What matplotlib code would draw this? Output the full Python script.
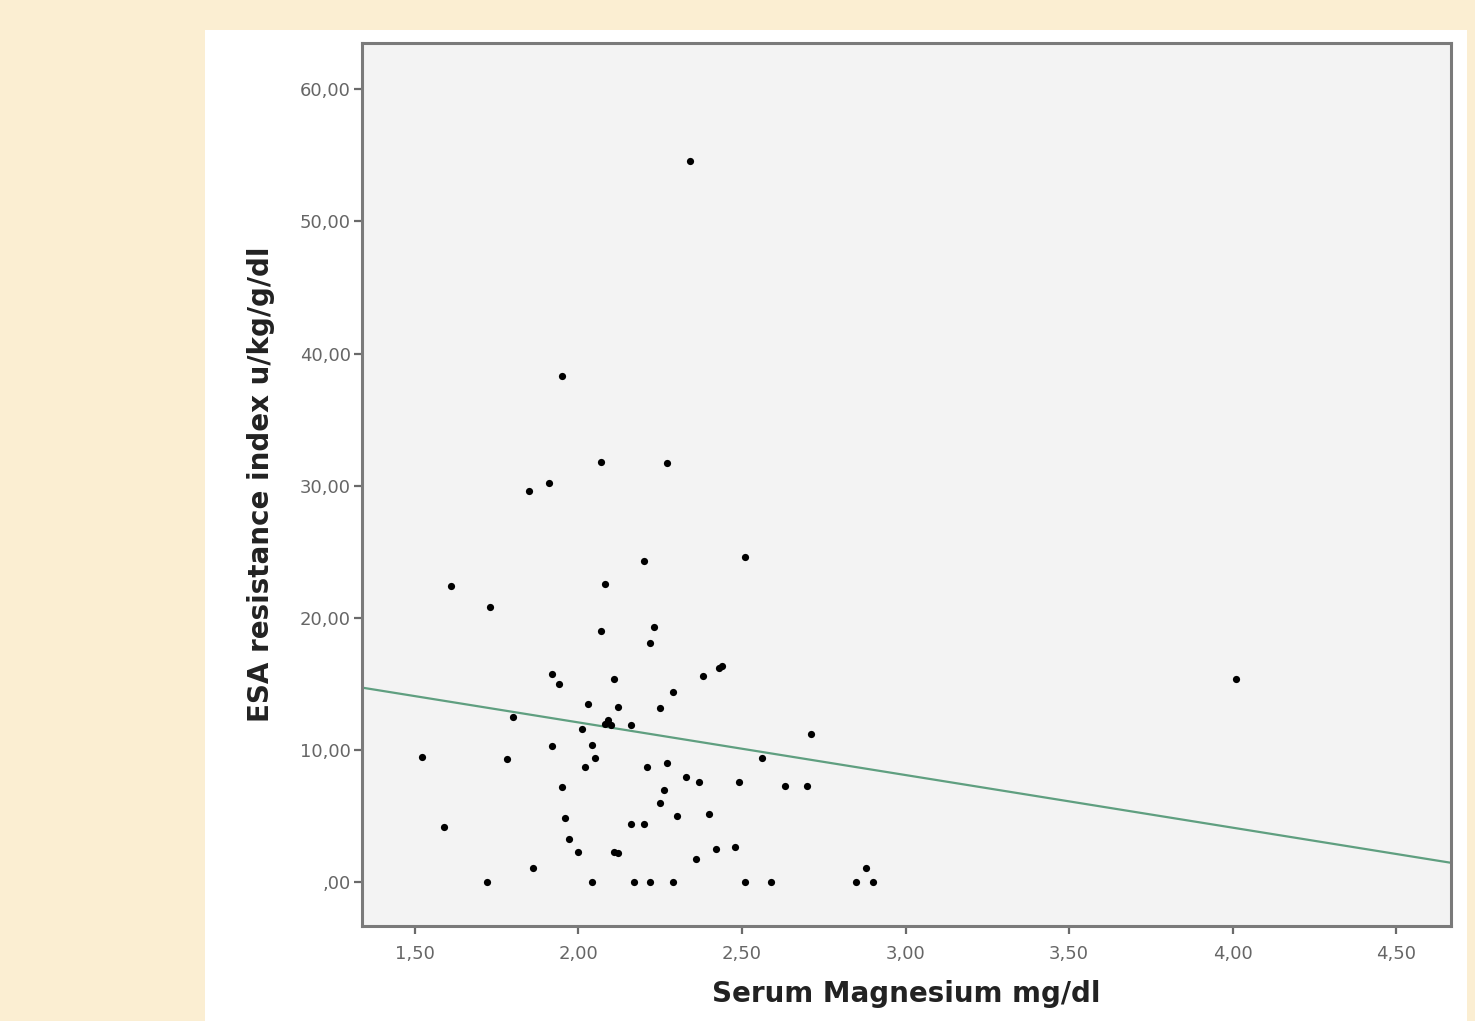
import numpy as np
import matplotlib.pyplot as plt
from matplotlib.patches import Rectangle
from matplotlib.ticker import FuncFormatter

# Serum magnesium (mg/dl) and ESA resistance index
magnesium = [2.34, 1.95, 2.07, 2.27, 1.91, 1.85, 2.20, 2.51, 1.61, 2.08,
             1.73, 2.23, 2.07, 2.22, 1.92, 1.94, 2.11, 2.44, 2.43, 2.38,
             2.29, 4.01, 2.25, 2.03, 2.12, 1.80, 2.08, 2.09, 2.10, 2.16,
             2.01, 2.71, 1.92, 2.04, 1.52, 1.78, 2.05, 2.56, 2.02, 2.21,
             2.27, 2.33, 2.37, 2.49, 2.63, 2.70, 1.95, 2.26, 2.25, 2.40,
             2.30, 1.96, 2.16, 2.20, 1.59, 1.97, 2.00, 2.11, 2.12, 2.42,
             2.48, 2.36, 1.86, 2.88, 1.72, 2.04, 2.17, 2.22, 2.29, 2.51,
             2.59, 2.85, 2.90]
esa_index = [54.6, 38.3, 31.8, 31.7, 30.2, 29.6, 24.3, 24.6, 22.4, 22.6,
             20.8, 19.3, 19.0, 18.1, 15.8, 15.0, 15.4, 16.4, 16.2, 15.6,
             14.4, 15.4, 13.2, 13.5, 13.3, 12.5, 12.0, 12.3, 11.9, 11.9,
             11.6, 11.2, 10.3, 10.4, 9.5, 9.3, 9.4, 9.4, 8.7, 8.7,
             9.0, 8.0, 7.6, 7.6, 7.3, 7.3, 7.2, 7.0, 6.0, 5.2,
             5.0, 4.9, 4.4, 4.4, 4.2, 3.3, 2.3, 2.3, 2.2, 2.5,
             2.7, 1.8, 1.1, 1.1, 0.0, 0.0, 0.0, 0.0, 0.0, 0.0,
             0.0, 0.0, 0.0]

# fit line as drawn in the picture
fit_intercept = 20.06
fit_slope = -3.98

x_ticks = [1.5, 2.0, 2.5, 3.0, 3.5, 4.0, 4.5]
y_ticks = [0, 10, 20, 30, 40, 50, 60]

W, H = 1475, 1021
fig = plt.figure(figsize=(W / 100, H / 100), dpi=100)
fig.patch.set_facecolor('#fbeed2')

# white panel behind the chart
fig.patches.append(Rectangle((205 / W, 0), (1467 - 205) / W, 1 - 30 / H,
                             transform=fig.transFigure, facecolor='white',
                             edgecolor='none', zorder=-10))

ax = fig.add_axes([362 / W, 1 - 926 / H, (1451 - 362) / W, (926 - 43) / H])
ax.set_facecolor('#f3f3f3')

xlim = (1.338, 4.668)
ax.set_xlim(xlim)
ax.set_ylim(-3.3, 63.5)

ax.plot(magnesium, esa_index, 'o', color='black', markersize=5.2,
        markeredgewidth=0, zorder=3)

xs = np.array(xlim)
ax.plot(xs, fit_intercept + fit_slope * xs, color='#5f9f80', linewidth=1.6,
        zorder=2)


def comma(v, p):
    s = ('%.2f' % v).replace('.', ',')
    if s.startswith('0,'):
        s = s[1:]
    return s


ax.xaxis.set_major_formatter(FuncFormatter(comma))
ax.yaxis.set_major_formatter(FuncFormatter(comma))
ax.set_xticks(x_ticks)
ax.set_yticks(y_ticks)

for s in ax.spines.values():
    s.set_color('#7a7a7a')
    s.set_linewidth(2.2)

ax.tick_params(axis='both', direction='out', length=6, width=1.6,
               color='#6a6a6a', labelsize=13, labelcolor='#666666')
ax.tick_params(axis='x', pad=8)
ax.tick_params(axis='y', pad=2)

ax.set_xlabel('Serum Magnesium mg/dl', fontsize=20, fontweight='bold',
              color='#222222', labelpad=12)
ax.set_ylabel('ESA resistance index u/kg/g/dl', fontsize=20,
              fontweight='bold', color='#222222', labelpad=18)

fig.savefig('out.png', dpi=100, facecolor=fig.get_facecolor())
